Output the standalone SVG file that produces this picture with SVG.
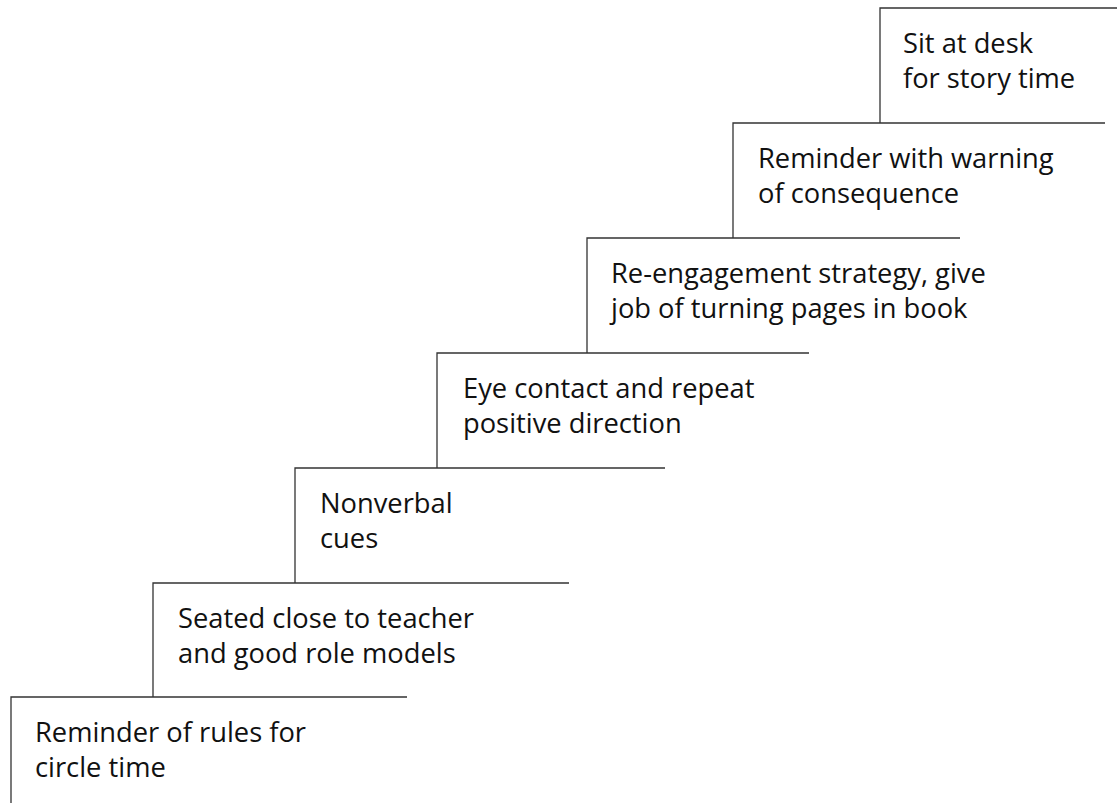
<svg xmlns="http://www.w3.org/2000/svg" width="1117" height="803" viewBox="0 0 1117 803">
<style>
.s{fill:none;stroke:#333;stroke-width:1.3}
.t{font-family:"Open Sans","Noto Sans",sans-serif;font-size:27.3px;fill:#111}
</style>
<rect width="1117" height="803" fill="#fff"/>
<g id="connectors"></g>
<g id="step1"><path class="s" d="M11,803 V697 H407"/><text class="t" x="35" y="742">Reminder of rules for</text><text class="t" x="35" y="777">circle time</text></g>
<g id="step2"><path class="s" d="M153,697 V583 H569"/><text class="t" x="178" y="628">Seated close to teacher</text><text class="t" x="178" y="663">and good role models</text></g>
<g id="step3"><path class="s" d="M295,583 V468 H665"/><text class="t" x="320" y="513">Nonverbal</text><text class="t" x="320" y="548">cues</text></g>
<g id="step4"><path class="s" d="M437,468 V353 H809"/><text class="t" x="463" y="398">Eye contact and repeat</text><text class="t" x="463" y="433">positive direction</text></g>
<g id="step5"><path class="s" d="M587,353 V238 H960"/><text class="t" x="611" y="283">Re-engagement strategy, give</text><text class="t" x="611" y="318">job of turning pages in book</text></g>
<g id="step6"><path class="s" d="M733,238 V123 H1105"/><text class="t" x="758" y="168">Reminder with warning</text><text class="t" x="758" y="203">of consequence</text></g>
<g id="step7"><path class="s" d="M880,123 V8 H1117"/><text class="t" x="903" y="53">Sit at desk</text><text class="t" x="903" y="88">for story time</text></g>
</svg>
